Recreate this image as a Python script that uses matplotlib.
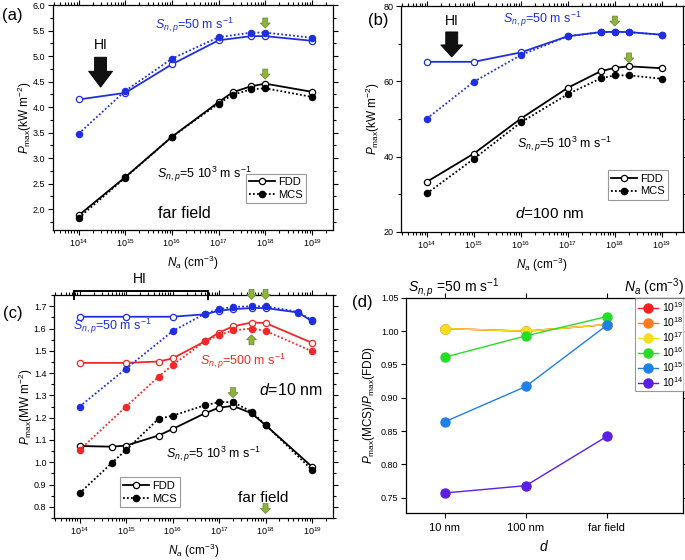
import numpy as np
import matplotlib
matplotlib.use("Agg")
import matplotlib.pyplot as plt
from matplotlib.lines import Line2D
from matplotlib.patches import Polygon
from matplotlib.ticker import MultipleLocator, FormatStrFormatter, LogLocator, NullFormatter
from matplotlib.transforms import ScaledTranslation

plt.rcParams["font.family"] = ["Liberation Sans", "DejaVu Sans"]
plt.rcParams["mathtext.fontset"] = "custom"
plt.rcParams["mathtext.rm"] = "Liberation Sans"
plt.rcParams["mathtext.it"] = "Liberation Sans:italic"
plt.rcParams["mathtext.bf"] = "Liberation Sans:bold"

BLUE = "#1f2fe0"
RED = "#f02828"
BLACK = "black"
GREEN = "#8db43c"
GREEN_EDGE = "#62852a"

# ---- panel (a): far field
na_a_s50 = [1e14, 1e15, 1e16, 1e17, 5e17, 1e18, 1e19]
pa_s50_fdd = [4.15, 4.28, 4.84, 5.31, 5.39, 5.39, 5.30]
pa_s50_mcs = [3.48, 4.32, 4.95, 5.37, 5.46, 5.46, 5.36]
na_a_s5k = [1e14, 1e15, 1e16, 1e17, 2e17, 5e17, 1e18, 1e19]
pa_s5k_fdd = [1.88, 2.63, 3.42, 4.10, 4.29, 4.41, 4.46, 4.30]
pa_s5k_mcs = [1.83, 2.62, 3.42, 4.07, 4.24, 4.35, 4.37, 4.20]

# ---- panel (b): d = 100 nm
na_b = [1e14, 1e15, 1e16, 1e17, 5e17, 1e18, 2e18, 1e19]
pb_s50_fdd = [65.2, 65.2, 67.7, 72.0, 73.1, 73.2, 73.1, 72.4]
pb_s50_mcs = [50.1, 59.9, 67.0, 72.0, 73.1, 73.2, 73.1, 72.4]
pb_s5k_fdd = [33.3, 40.8, 50.1, 58.3, 62.7, 63.6, 64.0, 63.5]
pb_s5k_mcs = [30.2, 39.4, 49.1, 56.6, 60.8, 61.6, 61.6, 60.7]

# ---- panel (c): d = 10 nm
na_c_s50 = [1e14, 1e15, 1e16, 5e16, 1e17, 2e17, 5e17, 1e18, 5e18, 1e19]
pc_s50_fdd = [1.653, 1.653, 1.653, 1.664, 1.680, 1.687, 1.692, 1.692, 1.672, 1.633]
pc_s50_mcs = [1.250, 1.420, 1.588, 1.667, 1.687, 1.697, 1.700, 1.700, 1.675, 1.637]
na_c_s500 = [1e14, 1e15, 5e15, 1e16, 5e16, 1e17, 2e17, 5e17, 1e18, 1e19]
pc_s500_fdd = [1.446, 1.446, 1.452, 1.466, 1.543, 1.582, 1.610, 1.627, 1.625, 1.536]
pc_s500_mcs = [1.055, 1.250, 1.384, 1.436, 1.543, 1.570, 1.592, 1.600, 1.590, 1.498]
na_c_s5k = [1e14, 5e14, 1e15, 5e15, 1e16, 5e16, 1e17, 2e17, 5e17, 1e18, 1e19]
pc_s5k_fdd = [1.073, 1.070, 1.075, 1.120, 1.149, 1.220, 1.245, 1.253, 1.220, 1.167, 0.980]
pc_s5k_mcs = [0.861, 0.998, 1.055, 1.195, 1.209, 1.256, 1.270, 1.270, 1.227, 1.168, 0.966]

na_decades = [1e14, 1e15, 1e16, 1e17, 1e18, 1e19]

# ---- panel (d): ratio MCS/FDD, S = 50 m/s
d_labels = ["10 nm", "100 nm", "far field"]
ratio_labels = ["$10^{19}$", "$10^{18}$", "$10^{17}$", "$10^{16}$", "$10^{15}$", "$10^{14}$"]
ratio_colors = ["#f52020", "#ff7a1a", "#f2de1e", "#26dc26", "#1f80e8", "#5a1fe0"]
ratio_1e19 = [1.004, 1.000, 1.010]
ratio_1e18 = [1.004, 1.000, 1.010]
ratio_1e17 = [1.004, 1.000, 1.010]
ratio_1e16 = [0.961, 0.993, 1.022]
ratio_1e15 = [0.864, 0.917, 1.009]
ratio_1e14 = [0.757, 0.768, 0.842]

fig = plt.figure(figsize=(6.85, 5.6), dpi=100)
ax_a = fig.add_axes([0.0774, 0.589, 0.4086, 0.402])
ax_b = fig.add_axes([0.5854, 0.586, 0.4116, 0.403])
ax_c = fig.add_axes([0.0788, 0.075, 0.4072, 0.398])
ax_d = fig.add_axes([0.5927, 0.084, 0.4043, 0.384])


def plot_pair(ax, na_f, fdd, na_m, mcs, color):
    ax.plot(na_f, fdd, "-", color=color, lw=1.3, marker="o", ms=4.5,
            mfc="white", mec=color, mew=0.9, zorder=3)
    ax.plot(na_m, mcs, linestyle=(0, (1, 1.2)), color=color, lw=1.3, marker="o",
            ms=4.5, mfc=color, mec=color, mew=0.9, zorder=4)


def block_arrow(ax, x, y, w_head, w_shaft, h_head, h_total, fc, ec, up=False, lw=0.6):
    # sizes in pixels, (x, y) is the tip in data coords
    pts = np.array([[0, 0], [-w_head / 2, h_head], [-w_shaft / 2, h_head],
                    [-w_shaft / 2, h_total], [w_shaft / 2, h_total],
                    [w_shaft / 2, h_head], [w_head / 2, h_head]], float)
    if up:
        pts[:, 1] *= -1
    trans = fig.dpi_scale_trans + ScaledTranslation(x, y, ax.transData)
    ax.add_patch(Polygon(pts / fig.dpi, closed=True, transform=trans, fc=fc, ec=ec,
                         lw=lw, zorder=6, clip_on=False))


def green_arrow(ax, x, y, up=False):
    block_arrow(ax, x, y, 10, 5, 5, 10, GREEN, GREEN_EDGE, up=up, lw=0.5)


def style_log_axes(ax):
    ax.set_xscale("log")
    ax.set_xlim(10 ** 13.45, 10 ** 19.45)
    ax.set_xticks(na_decades)
    ax.xaxis.set_minor_locator(LogLocator(base=10, subs=np.arange(2, 10), numticks=20))
    ax.xaxis.set_minor_formatter(NullFormatter())
    ax.set_xlabel("$N_a$ (cm$^{-3}$)", fontsize=8.5, labelpad=3)


def common_ticks(ax):
    ax.tick_params(which="both", direction="out", top=True, right=True, labelsize=6.5,
                   width=0.8, pad=2)
    ax.tick_params(which="major", length=3.5)
    ax.tick_params(which="minor", length=2)
    for sp in ax.spines.values():
        sp.set_linewidth(0.9)


def pair_legend(ax, **kw):
    handles = [Line2D([], [], color="black", lw=1.3, marker="o", ms=4.5, mfc="white", mew=0.9),
               Line2D([], [], color="black", lw=1.3, linestyle=(0, (1, 1.2)), marker="o",
                      ms=4.5, mfc="black")]
    leg = ax.legend(handles, ["FDD", "MCS"], fontsize=8, frameon=True, fancybox=False,
                    edgecolor="#808080", handlelength=2.3, handletextpad=0.3,
                    borderpad=0.3, labelspacing=0.25, borderaxespad=0, **kw)
    leg.get_frame().set_linewidth(0.8)


def label(ax, x, y, s, size=9, color=BLACK, **kw):
    ax.text(x, y, s, color=color, fontsize=size, transform=ax.transAxes,
            va="baseline", **kw)


SNP = "$S_{n,p}$"

# ---------------- (a)
plot_pair(ax_a, na_a_s50, pa_s50_fdd, na_a_s50, pa_s50_mcs, BLUE)
plot_pair(ax_a, na_a_s5k, pa_s5k_fdd, na_a_s5k, pa_s5k_mcs, BLACK)
style_log_axes(ax_a)
ax_a.set_ylim(1.59, 6.0)
ax_a.yaxis.set_major_locator(MultipleLocator(0.5))
ax_a.yaxis.set_minor_locator(MultipleLocator(0.25))
ax_a.yaxis.set_major_formatter(FormatStrFormatter("%.1f"))
ax_a.set_ylabel("$P_{\\rm max}$(kW m$^{-2}$)", fontsize=8.5, labelpad=-1)
common_ticks(ax_a)
label(ax_a, 0.364, 0.893, SNP + "=50 m s$^{-1}$", color=BLUE)
label(ax_a, 0.371, 0.231, SNP + "=5 10$^3$ m s$^{-1}$")
label(ax_a, 0.375, 0.053, "far field", size=11.5)
ax_a.text(10 ** 14.47, 5.22, "HI", fontsize=10, ha="center", va="center")
block_arrow(ax_a, 10 ** 14.47, 4.39, 24, 12, 16, 30, "#111111", "black")
green_arrow(ax_a, 1e18, 5.55)
green_arrow(ax_a, 1e18, 4.55)
pair_legend(ax_a, loc="lower right", bbox_to_anchor=(0.905, 0.12))
fig.text(0.003, 0.973, "(a)", fontsize=12, va="center")

# ---------------- (b)
plot_pair(ax_b, na_b, pb_s50_fdd, na_b, pb_s50_mcs, BLUE)
plot_pair(ax_b, na_b, pb_s5k_fdd, na_b, pb_s5k_mcs, BLACK)
style_log_axes(ax_b)
ax_b.set_ylim(20, 80)
ax_b.yaxis.set_major_locator(MultipleLocator(20))
ax_b.yaxis.set_minor_locator(MultipleLocator(10))
ax_b.set_ylabel("$P_{\\rm max}$(kW m$^{-2}$)", fontsize=8.5, labelpad=1)
common_ticks(ax_b)
label(ax_b, 0.362, 0.925, SNP + "=50 m s$^{-1}$", color=BLUE)
label(ax_b, 0.411, 0.372, SNP + "=5 10$^3$ m s$^{-1}$")
label(ax_b, 0.404, 0.062, "$d$=100 nm", size=11)
ax_b.text(10 ** 14.53, 76.0, "HI", fontsize=10, ha="center", va="center")
block_arrow(ax_b, 10 ** 14.53, 66.5, 22, 12, 12, 25, "#111111", "black")
green_arrow(ax_b, 1e18, 74.7)
green_arrow(ax_b, 2e18, 64.9)
pair_legend(ax_b, loc="lower right", bbox_to_anchor=(0.947, 0.142))
fig.text(0.537, 0.964, "(b)", fontsize=12, va="center")

# ---------------- (c)
plot_pair(ax_c, na_c_s50, pc_s50_fdd, na_c_s50, pc_s50_mcs, BLUE)
plot_pair(ax_c, na_c_s500, pc_s500_fdd, na_c_s500, pc_s500_mcs, RED)
plot_pair(ax_c, na_c_s5k, pc_s5k_fdd, na_c_s5k, pc_s5k_mcs, BLACK)
style_log_axes(ax_c)
ax_c.set_ylim(0.75, 1.75)
ax_c.yaxis.set_major_locator(MultipleLocator(0.1))
ax_c.yaxis.set_minor_locator(MultipleLocator(0.05))
ax_c.yaxis.set_major_formatter(FormatStrFormatter("%.1f"))
ax_c.set_ylabel("$P_{\\rm max}$(MW m$^{-2}$)", fontsize=8.5, labelpad=-1)
common_ticks(ax_c)
label(ax_c, 0.068, 0.843, SNP + "=50 m s$^{-1}$", color=BLUE)
label(ax_c, 0.523, 0.686, SNP + "=500 m s$^{-1}$", color=RED)
label(ax_c, 0.735, 0.552, "$d$=10 nm", size=11.5)
label(ax_c, 0.401, 0.269, SNP + "=5 10$^3$ m s$^{-1}$")
label(ax_c, 0.749, 0.072, "far field", size=11, ha="center")
# HI bracket above the plot
bx0, bx1 = 10 ** 13.89, 10 ** 16.76
ax_c.plot([bx0, bx0, bx1, bx1], [1.731, 1.768, 1.768, 1.731], color="black", lw=1.4,
          clip_on=False, zorder=6, solid_joinstyle="miter")
ax_c.text(10 ** 15.3, 1.821, "HI", fontsize=10, ha="center", va="center")
green_arrow(ax_c, 5e17, 1.731)
green_arrow(ax_c, 1e18, 1.731)
green_arrow(ax_c, 5e17, 1.572, up=True)
green_arrow(ax_c, 2e17, 1.29)
green_arrow(ax_c, 1e18, 0.77)
pair_legend(ax_c, loc="lower left", bbox_to_anchor=(0.237, 0.05))
fig.text(0.004, 0.441, "(c)", fontsize=12, va="center")

# ---------------- (d)
pos = np.arange(1, len(d_labels) + 1)
ratio_series = [ratio_1e19, ratio_1e18, ratio_1e17, ratio_1e16, ratio_1e15, ratio_1e14]
for vals, col, lab in zip(ratio_series, ratio_colors, ratio_labels):
    ax_d.plot(pos, vals, "-o", color=col, lw=1.0, ms=6.5, label=lab, zorder=3)
ax_d.set_xlim(0.52, 3.94)
ax_d.set_xticks(pos)
ax_d.set_xticklabels(d_labels, fontsize=8)
ax_d.set_ylim(0.727, 1.05)
ax_d.yaxis.set_major_locator(MultipleLocator(0.05))
ax_d.yaxis.set_major_formatter(FormatStrFormatter("%.2f"))
common_ticks(ax_d)
ax_d.tick_params(axis="x", labelsize=8, pad=4)
ax_d.set_xlabel("$d$", fontsize=10, labelpad=4)
ax_d.set_ylabel("$P_{\\rm max}$(MCS)/$P_{\\rm max}$(FDD)", fontsize=8.5, labelpad=3)
leg = ax_d.legend(loc="upper right", bbox_to_anchor=(1.008, 1.0), borderaxespad=0,
                  fontsize=7.5, frameon=True, fancybox=False, edgecolor="#808080",
                  handlelength=2.0, handletextpad=0.3, borderpad=0.2, labelspacing=0.12,
                  handleheight=0.9)
leg.get_frame().set_linewidth(0.8)
fig.text(0.596, 0.487, SNP + " =50 m s$^{-1}$", fontsize=10, va="center")
fig.text(0.999, 0.487, "$N_a$ (cm$^{-3}$)", fontsize=10, ha="right", va="center")
fig.text(0.514, 0.459, "(d)", fontsize=12, va="center")

fig.savefig("out.png", dpi=100)
